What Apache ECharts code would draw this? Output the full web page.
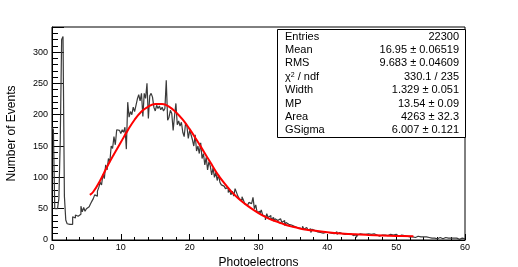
<!DOCTYPE html>
<html>
<head>
<meta charset="utf-8">
<script src="https://cdn.jsdelivr.net/npm/echarts@6/dist/echarts.min.js"></script>
<style>
html,body{margin:0;padding:0;background:#fff;}
#c{width:518px;height:267px;}
</style>
</head>
<body>
<div id="c"></div>
<script>
// ---- data ----
const X_MIN = 0, X_MAX = 60, BIN_WIDTH = 0.2;
const counts = [
  // 0 - 6
  180,176,50,50,50, 66,160,320,325,70, 32,26,25,26,25, 37,35,40,38,37, 41,54,45,52,46, 50,53,52,58,62,
  // 6 - 12
  66,72,70,78,84, 92,88,105,98,120, 112,130,124,150,146, 165,152,176,175,178, 170,176,172,180,145, 220,196,205,200,212,
  // 12 - 18
  205,215,225,232,222, 234,197,234,226,250, 194,230,234,228,212, 206,215,210,214,208, 212,206,210,255,191, 196,207,202,175,198,
  // 18 - 24
  218,184,190,182,188, 172,165,186,182,162, 175,168,160,150,168, 142,150,138,155,130, 138,120,132,112,125, 118,104,115,100,108,
  // 24 - 30
  95,104,92,88,86, 89,82,84,76,80, 72,78,70,82,76, 70,66,63,69,64, 58,55,52,60,58, 56,68,50,56,44,
  // 30 - 36
  46,42,48,40,38, 32,42,36,39,33, 36,30,34,31,33, 34,32,28,31,23, 28,25,27,24,26, 22,25,20,23,19,
  // 36 - 42
  21,18,22,17,20, 19,16,18,12,17, 15,18,13,16,12, 15,11,14,12,15, 12,14,11,13,10, 12,13,9,12,11,
  // 42 - 48
  10,12,9,11,10, 8,10,9,7,10, 9,4,8,10,8, 9,7,9,8,10, 7,9,8,10,7, 8,9,6,9,8,
  // 48 - 54
  10,8,9,7,8, 9,11,8,7,9, 8,6,7,8,6, 7,5,6,7,5, 6,5,6,4,5, 6,4,5,4,5,
  // 54 - 60
  4,5,3,4,5, 3,4,3,4,2, 3,4,3,2,3, 4,2,3,2,3, 2,3,2,3,2, 1,2,3,1,2
];
const fitX = [5.5, 6, 7, 8, 9, 10, 11, 12, 13, 14, 15, 16, 17, 18, 19, 20, 21, 22, 23, 24, 25, 26, 27, 28, 29, 30, 31, 32, 33, 34, 35, 36, 37, 38, 40, 42, 44, 46, 48, 50, 52.5];
const fitY = [72, 77, 95, 117, 137, 156, 175, 192, 205, 213, 217, 217, 213, 204, 192, 177, 160, 142, 124, 106, 91, 78, 67, 58, 50, 43, 37, 32, 28, 24, 21, 18.5, 16.5, 15, 12.5, 10.5, 9, 8, 7.2, 6.5, 6];
const xTicks = [0, 10, 20, 30, 40, 50, 60];
const yMajorStep = 50, yMinorStep = 10, Y_MAX = 340;
const statsLabels = ['Entries', 'Mean', 'RMS', '{n|χ}{sup|2}{n| / ndf}', 'Width', 'MP', 'Area', 'GSigma'];
const statsValues = ['22300', '16.95 ± 0.06519', '9.683 ± 0.04609', '330.1 / 235', '1.329 ± 0.051', '13.54 ± 0.09', '4263 ± 32.3', '6.007 ± 0.121'];

// ---- build ----
const histData = counts.map((v, i) => [X_MIN + i * BIN_WIDTH, v]);
histData.push([X_MAX, counts[counts.length - 1]]);
const fitData = fitX.map((x, i) => [x, fitY[i]]);

const FONT = 'Liberation Sans, Arial, Helvetica, sans-serif';
const chart = echarts.init(document.getElementById('c'), null, {renderer: 'canvas'});

const boxL = 277, boxT = 29, boxW = 188, boxH = 108, rowH = 13.4;
const graphics = [{
  type: 'rect', left: boxL, top: boxT, shape: {width: boxW, height: boxH},
  style: {fill: '#fff', stroke: '#000', lineWidth: 1}, z: 100
}];
statsLabels.forEach((s, i) => {
  graphics.push({
    type: 'text', left: boxL + 8, top: boxT + 2 + i * rowH, z: 101,
    style: {text: s, font: '11px ' + FONT, fill: '#000',
      rich: {n: {fontSize: 11, fontFamily: FONT}, sup: {fontSize: 7, fontFamily: FONT, verticalAlign: 'top', padding: [0,0,5,0]}}}
  });
  graphics.push({
    type: 'text', right: 518 - (boxL + boxW - 6), top: boxT + 2 + i * rowH, z: 101,
    style: {text: statsValues[i], font: '11px ' + FONT, fill: '#000', align: 'right'}
  });
});

chart.setOption({
  animation: false,
  backgroundColor: '#fff',
  grid: {left: 52, right: 53, top: 27, bottom: 27, show: true, borderColor: '#000', borderWidth: 1, containLabel: false, outerBoundsMode: 'none'},
  xAxis: {
    type: 'value', min: X_MIN, max: X_MAX, interval: 10,
    name: 'Photoelectrons', nameLocation: 'middle', nameGap: 15,
    nameTextStyle: {fontFamily: FONT, fontSize: 12, color: '#000'},
    axisLine: {show: true, onZero: false, lineStyle: {color: '#000', width: 1}},
    axisTick: {show: true, inside: true, length: 6, lineStyle: {color: '#000'}},
    minorTick: {show: true, splitNumber: 5, length: 3, lineStyle: {color: '#000'}},
    axisLabel: {fontFamily: FONT, fontSize: 9, color: '#000', margin: 3,
      formatter: v => xTicks.includes(v) ? String(v) : ''},
    splitLine: {show: false}, minorSplitLine: {show: false}
  },
  yAxis: [{
    type: 'value', min: 0, max: Y_MAX, interval: yMinorStep, position: 'left',
    name: 'Number of Events', nameLocation: 'middle', nameGap: 34,
    nameTextStyle: {fontFamily: FONT, fontSize: 12, color: '#000'},
    axisLine: {show: true, onZero: false, lineStyle: {color: '#000', width: 1}},
    axisTick: {show: true, inside: true, length: 6, lineStyle: {color: '#000'}},
    axisLabel: {fontFamily: FONT, fontSize: 9, color: '#000', margin: 4,
      formatter: v => (v % yMajorStep === 0 && v <= 300) ? String(v) : ''},
    splitLine: {show: false}
  }, {
    type: 'value', min: 0, max: Y_MAX, interval: yMajorStep, position: 'left', offset: 0,
    axisLine: {show: false},
    axisTick: {show: true, inside: true, length: 12, lineStyle: {color: '#000'}},
    axisLabel: {show: false},
    splitLine: {show: false}
  }],
  graphic: graphics,
  series: [{
    type: 'line', step: 'end', data: histData, xAxisIndex: 0, yAxisIndex: 0,
    symbol: 'none', lineStyle: {color: '#3a3a3a', width: 1.2}, z: 2
  }, {
    type: 'line', data: fitData, xAxisIndex: 0, yAxisIndex: 0, smooth: 0.4,
    symbol: 'none', lineStyle: {color: '#ff0000', width: 2}, z: 3
  }]
});
</script>
</body>
</html>
